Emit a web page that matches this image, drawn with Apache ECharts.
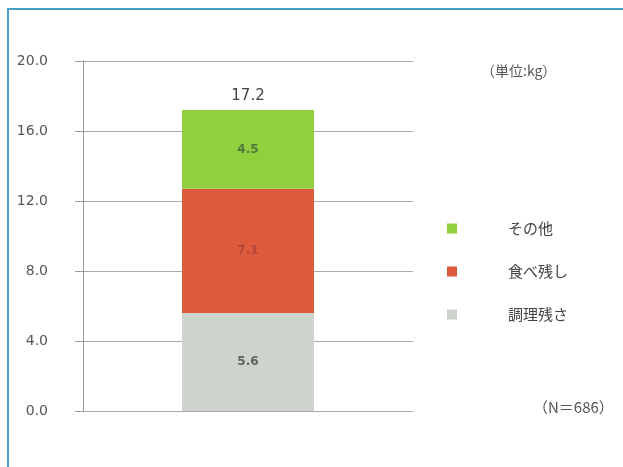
<!DOCTYPE html>
<html>
<head>
<meta charset="utf-8">
<script src="https://cdn.jsdelivr.net/npm/echarts@6/dist/echarts.min.js"></script>
<style>
  html, body { margin: 0; padding: 0; background: #fff; }
  #chart { width: 623px; height: 467px; }
</style>
</head>
<body>
<div id="chart"></div>
<script>
// data (kg per household)
const categories = ['合計'];
const cookingWaste = [5.6];   // 調理残さ
const plateWaste = [7.1];     // 食べ残し
const otherWaste = [4.5];     // その他
const yTicks = [0, 4, 8, 12, 16, 20];

const totals = categories.map((_, i) =>
  Math.round((cookingWaste[i] + plateWaste[i] + otherWaste[i]) * 10) / 10
);

const numFont = 'DejaVu Sans';
const jpFont = 'Noto Sans CJK JP';

const chart = echarts.init(document.getElementById('chart'));

function seg(name, data, color, labelColor) {
  return {
    name: name,
    type: 'bar',
    stack: 'total',
    data: data,
    barWidth: '40%',
    itemStyle: { color: color },
    label: {
      show: true,
      position: 'inside',
      color: labelColor,
      fontFamily: numFont,
      fontSize: 12,
      fontWeight: 'bold',
      formatter: (p) => p.value.toFixed(1)
    },
    emphasis: { disabled: true }
  };
}

const option = {
  animation: false,
  grid: { left: 83, right: 210, top: 61, bottom: 56 },
  legend: {
    data: ['その他', '食べ残し', '調理残さ'],
    orient: 'vertical',
    left: 442,
    top: 216,
    icon: 'rect',
    itemWidth: 10,
    itemHeight: 10,
    itemGap: 28,
    selectedMode: false,
    textStyle: {
      fontFamily: jpFont,
      fontSize: 15,
      color: '#444',
      padding: [0, 0, 0, 46]
    }
  },
  xAxis: {
    type: 'category',
    data: categories,
    axisLine: { show: false },
    axisTick: { show: false },
    axisLabel: { show: false }
  },
  yAxis: {
    type: 'value',
    min: yTicks[0],
    max: yTicks[yTicks.length - 1],
    interval: yTicks[1] - yTicks[0],
    axisLine: { show: true, lineStyle: { color: '#999', width: 1 } },
    axisTick: { show: true, length: 8, lineStyle: { color: '#999' } },
    splitLine: { lineStyle: { color: '#aaa', width: 1 } },
    axisLabel: {
      margin: 35,
      color: '#555',
      fontFamily: numFont,
      fontSize: 14,
      formatter: (v) => v.toFixed(1)
    }
  },
  series: [
    seg('調理残さ', cookingWaste, '#cdd3cd', '#5d6560'),
    seg('食べ残し', plateWaste, '#dd5a3c', '#b5483a'),
    seg('その他', otherWaste, '#92cf3e', '#4d7a3a'),
    {
      name: '合計',
      type: 'bar',
      stack: 'total',
      data: categories.map(() => 0),
      barWidth: '40%',
      itemStyle: { color: 'transparent' },
      label: {
        show: true,
        position: 'top',
        distance: 6,
        color: '#444',
        fontFamily: numFont,
        fontSize: 15,
        formatter: (p) => totals[p.dataIndex].toFixed(1)
      },
      emphasis: { disabled: true }
    }
  ],
  graphic: [
    {
      type: 'rect',
      shape: { x: 8, y: 9, width: 640, height: 480 },
      style: { fill: 'none', stroke: '#4a9fc4', lineWidth: 2 },
      silent: true
    },
    {
      type: 'text',
      left: 481,
      top: 64,
      style: { text: '（単位:kg）', fontFamily: jpFont, fontSize: 14, fill: '#555' }
    },
    {
      type: 'text',
      left: 533,
      top: 400,
      style: { text: '（N＝686）', fontFamily: jpFont, fontSize: 15, fill: '#555' }
    }
  ]
};

chart.setOption(option);
</script>
</body>
</html>
